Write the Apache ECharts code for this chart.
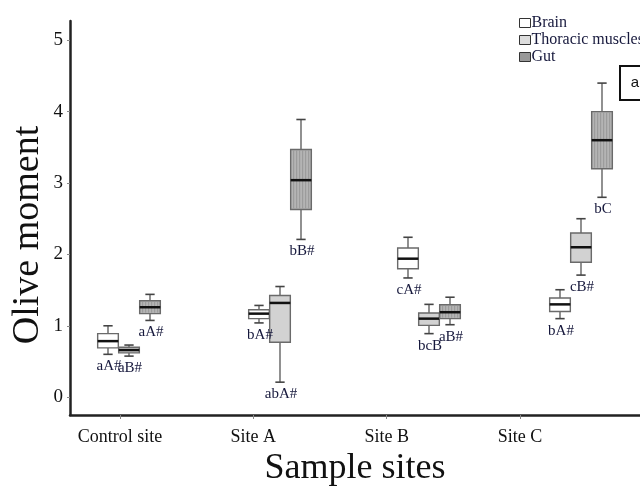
<!DOCTYPE html>
<html>
<head>
<meta charset="utf-8">
<script src="https://cdn.jsdelivr.net/npm/echarts@6/dist/echarts.min.js"></script>
<style>
  html, body { margin: 0; padding: 0; background: #fff; }
  #main { width: 640px; height: 497px; }
</style>
</head>
<body>
<div id="main"></div>
<script>
const sites = ['Control site', 'Site A', 'Site B', 'Site C']
const tissues = ['Brain', 'Thoracic muscles', 'Gut']
const yTicks = [0, 1, 2, 3, 4, 5]

// [lower whisker, Q1, median, Q3, upper whisker]
const brainStats = [
  [0.60, 0.69, 0.785, 0.89, 1.00],
  [1.04, 1.10, 1.17, 1.225, 1.285],
  [1.67, 1.80, 1.94, 2.09, 2.24],
  [1.10, 1.20, 1.30, 1.39, 1.505]
]
const thoracicStats = [
  [0.575, 0.62, 0.66, 0.70, 0.73],
  [0.21, 0.77, 1.32, 1.425, 1.55],
  [0.89, 1.005, 1.10, 1.18, 1.30],
  [1.71, 1.89, 2.10, 2.30, 2.50]
]
const gutStats = [
  [1.075, 1.17, 1.26, 1.35, 1.44],
  [2.21, 2.63, 3.04, 3.47, 3.89],
  [1.015, 1.10, 1.19, 1.295, 1.40],
  [2.80, 3.20, 3.60, 4.00, 4.40]
]
const brainLetters = ['aA#', 'bA#', 'cA#', 'bA#']
const thoracicLetters = ['aB#', 'abA#', 'bcB', 'cB#']
const gutLetters = ['aA#', 'bB#', 'aB#', 'bC']

// layout of the boxes around each site (x-axis units)
const siteShift = [-0.09, 0.0425, 0.16, 0.30]
const tissueStep = 0.1575
const boxWidth = 0.155
const serif = 'Liberation Serif, Times New Roman, serif'

const boxStyles = [
  { fill: '#ffffff', hatch: false },
  { fill: '#d2d2d2', hatch: false },
  { fill: '#b4b4b4', hatch: true }
]

function buildData (stats, letters, t) {
  return stats.map((s, i) => [i + 1 + siteShift[i] + t * tissueStep].concat(s, [letters[i]]))
}

function makeRender (t) {
  return function (params, api) {
    const x = api.value(0)
    const lo = api.coord([x, api.value(1)])
    const q1 = api.coord([x, api.value(2)])
    const md = api.coord([x, api.value(3)])
    const q3 = api.coord([x, api.value(4)])
    const hi = api.coord([x, api.value(5)])
    const half = api.size([boxWidth, 0])[0] / 2
    const cap = half * 0.45
    const cx = md[0]
    const line = { stroke: '#555', lineWidth: 1.3 }
    const children = [
      { type: 'line', shape: { x1: cx, y1: hi[1], x2: cx, y2: q3[1] }, style: line },
      { type: 'line', shape: { x1: cx, y1: q1[1], x2: cx, y2: lo[1] }, style: line },
      { type: 'line', shape: { x1: cx - cap, y1: hi[1], x2: cx + cap, y2: hi[1] }, style: { stroke: '#444', lineWidth: 1.6 } },
      { type: 'line', shape: { x1: cx - cap, y1: lo[1], x2: cx + cap, y2: lo[1] }, style: { stroke: '#444', lineWidth: 1.6 } },
      {
        type: 'rect',
        shape: { x: cx - half, y: q3[1], width: half * 2, height: q1[1] - q3[1] },
        style: { fill: boxStyles[t].fill, stroke: '#6a6a6a', lineWidth: 1.4 }
      }
    ]
    if (boxStyles[t].hatch) {
      for (let hx = cx - half + 3; hx < cx + half - 1; hx += 3) {
        children.push({
          type: 'line',
          shape: { x1: hx, y1: q3[1] + 1, x2: hx, y2: q1[1] - 1 },
          style: { stroke: '#929292', lineWidth: 0.8 }
        })
      }
    }
    children.push({
      type: 'line',
      shape: { x1: cx - half, y1: md[1], x2: cx + half, y2: md[1] },
      style: { stroke: '#111', lineWidth: 2.5 }
    })
    children.push({
      type: 'text',
      x: cx + 1,
      y: lo[1] + 12,
      z2: 100,
      style: {
        text: api.value(6),
        fontFamily: serif,
        fontSize: 15,
        fill: '#16183c',
        align: 'center',
        verticalAlign: 'middle'
      }
    })
    return { type: 'group', children: children }
  }
}

const chart = echarts.init(document.getElementById('main'))

const seriesData = [
  buildData(brainStats, brainLetters, 0),
  buildData(thoracicStats, thoracicLetters, 1),
  buildData(gutStats, gutLetters, 2)
]

const option = {
  animation: false,
  grid: { left: 70, right: 0, top: 21, bottom: 82 },
  legend: {
    orient: 'vertical',
    left: 519,
    top: 15,
    padding: 0,
    itemGap: 1,
    itemWidth: 11,
    itemHeight: 9,
    icon: 'rect',
    textStyle: { fontFamily: serif, fontSize: 16, color: '#16183c', padding: [0, 0, 0, -4] },
    data: [
      { name: tissues[0], itemStyle: { color: '#fff', borderColor: '#333', borderWidth: 1 } },
      { name: tissues[1], itemStyle: { color: '#ddd', borderColor: '#333', borderWidth: 1 } },
      { name: tissues[2], itemStyle: { color: '#999', borderColor: '#333', borderWidth: 1 } }
    ]
  },
  xAxis: {
    type: 'value',
    min: 0.625,
    max: 4.9,
    splitLine: { show: false },
    axisLine: { onZero: false, lineStyle: { color: '#222', width: 2.5 } },
    axisTick: { customValues: [1, 2, 3, 4], length: 4, lineStyle: { color: '#888' } },
    axisLabel: {
      customValues: [1, 2, 3, 4],
      formatter: v => sites[Math.round(v) - 1],
      margin: 13,
      fontFamily: serif,
      fontSize: 18,
      color: '#111'
    },
    name: 'Sample sites',
    nameLocation: 'middle',
    nameGap: 36,
    nameTextStyle: { fontFamily: serif, fontSize: 36, color: '#111' }
  },
  yAxis: {
    type: 'value',
    min: -0.25,
    max: 5.27,
    splitLine: { show: false },
    axisLine: { show: true, onZero: false, lineStyle: { color: '#222', width: 2.5 } },
    axisTick: { show: true, customValues: yTicks, length: 3, lineStyle: { color: '#888' } },
    axisLabel: {
      customValues: yTicks,
      margin: 7,
      fontFamily: serif,
      fontSize: 19,
      color: '#111'
    }
  },
  graphic: [
    {
      type: 'text',
      x: 28,
      y: 235,
      rotation: Math.PI / 2,
      style: {
        text: 'Olive moment',
        fontFamily: serif,
        fontSize: 38,
        fill: '#111',
        align: 'center',
        verticalAlign: 'middle'
      }
    },
    {
      type: 'rect',
      shape: { x: 620, y: 66, width: 40, height: 34 },
      style: { fill: '#fff', stroke: '#111', lineWidth: 2 }
    },
    {
      type: 'text',
      x: 635,
      y: 83,
      style: { text: 'a', fontFamily: 'Liberation Sans, Arial, sans-serif', fontSize: 15, fill: '#111', align: 'center', verticalAlign: 'middle' }
    }
  ],
  series: tissues.map((name, t) => ({
    name: name,
    type: 'custom',
    clip: false,
    itemStyle: { color: boxStyles[t].fill, borderColor: '#333' },
    encode: { x: 0, y: [1, 2, 3, 4, 5] },
    renderItem: makeRender(t),
    data: seriesData[t]
  }))
}

chart.setOption(option)
</script>
</body>
</html>
